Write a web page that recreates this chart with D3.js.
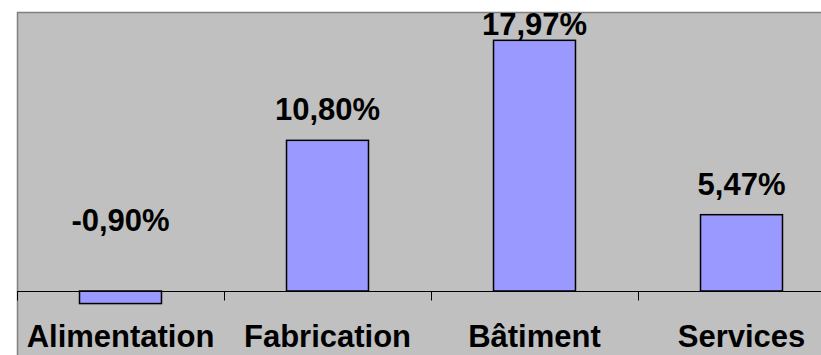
<!DOCTYPE html>
<html>
<head>
<meta charset="utf-8">
<script src="https://cdn.jsdelivr.net/npm/d3@7"></script>
<style>
  html, body { margin: 0; padding: 0; background: #fff; }
  svg { display: block; }
  text { font-family: "Liberation Sans", Arial, sans-serif; font-weight: bold; fill: #000; }
</style>
</head>
<body>
<svg id="chart" width="821" height="355"></svg>
<script>
// Sectors and their growth rates (%)
const categories = ["Alimentation", "Fabrication", "Bâtiment", "Services"];
const values = [-0.90, 10.80, 17.97, 5.47];
const valueLabels = ["-0,90%", "10,80%", "17,97%", "5,47%"];

const W = 821, H = 355;
const plot = { left: 17, top: 12, right: 845, bottom: 355 };
const fontSize = 31;

const svg = d3.select("#chart");

// Grey plot area with its top/left border
svg.append("rect")
  .attr("x", plot.left).attr("y", plot.top)
  .attr("width", plot.right - plot.left).attr("height", plot.bottom - plot.top)
  .attr("fill", "#c0c0c0");
svg.append("path")
  .attr("d", `M${plot.left + 0.5},${H} V${plot.top + 0.5} H${W}`)
  .attr("fill", "none").attr("stroke", "#808080").attr("stroke-width", 1.5);

const x = d3.scaleBand()
  .domain(categories)
  .range([plot.left, plot.right])
  .paddingInner(0.604)
  .paddingOuter(0.302);

const y = d3.scaleLinear().domain([0, 20]).range([291, plot.top]);

// Bars
svg.selectAll("rect.bar")
  .data(values)
  .join("rect")
  .attr("class", "bar")
  .attr("x", (d, i) => x(categories[i]))
  .attr("width", x.bandwidth())
  .attr("y", d => y(Math.max(d, 0)))
  .attr("height", d => Math.abs(y(d) - y(0)))
  .attr("fill", "#9999ff")
  .attr("stroke", "#000")
  .attr("stroke-width", 1.5);

// Category axis along zero, with ticks between categories
const step = x.step();
const boundaries = categories.map(c => x(c) + x.bandwidth() / 2 - step / 2);
const axisG = svg.append("g").attr("transform", `translate(0,${Math.round(y(0)) + 0.5})`);
axisG.append("line")
  .attr("x1", plot.left).attr("x2", W)
  .attr("stroke", "#000").attr("stroke-width", 1);
axisG.selectAll("line.tick")
  .data(boundaries)
  .join("line")
  .attr("class", "tick")
  .attr("x1", d => Math.round(d) + 0.5).attr("x2", d => Math.round(d) + 0.5)
  .attr("y1", 0).attr("y2", 9)
  .attr("stroke", "#000").attr("stroke-width", 1);

// Category labels
svg.selectAll("text.cat")
  .data(categories)
  .join("text")
  .attr("class", "cat")
  .attr("x", c => x(c) + x.bandwidth() / 2)
  .attr("y", 347)
  .attr("text-anchor", "middle")
  .style("font-size", fontSize + "px")
  .text(c => c);

// Value labels above the bars, kept inside the plot area
const capH = fontSize * 0.716;
svg.selectAll("text.val")
  .data(values)
  .join("text")
  .attr("class", "val")
  .attr("x", (d, i) => x(categories[i]) + x.bandwidth() / 2)
  .attr("y", d => d < 0 ? y(0) - 60 : Math.max(y(d) - 20, plot.top + capH + 1))
  .attr("text-anchor", "middle")
  .style("font-size", fontSize + "px")
  .text((d, i) => valueLabels[i]);
</script>
</body>
</html>
